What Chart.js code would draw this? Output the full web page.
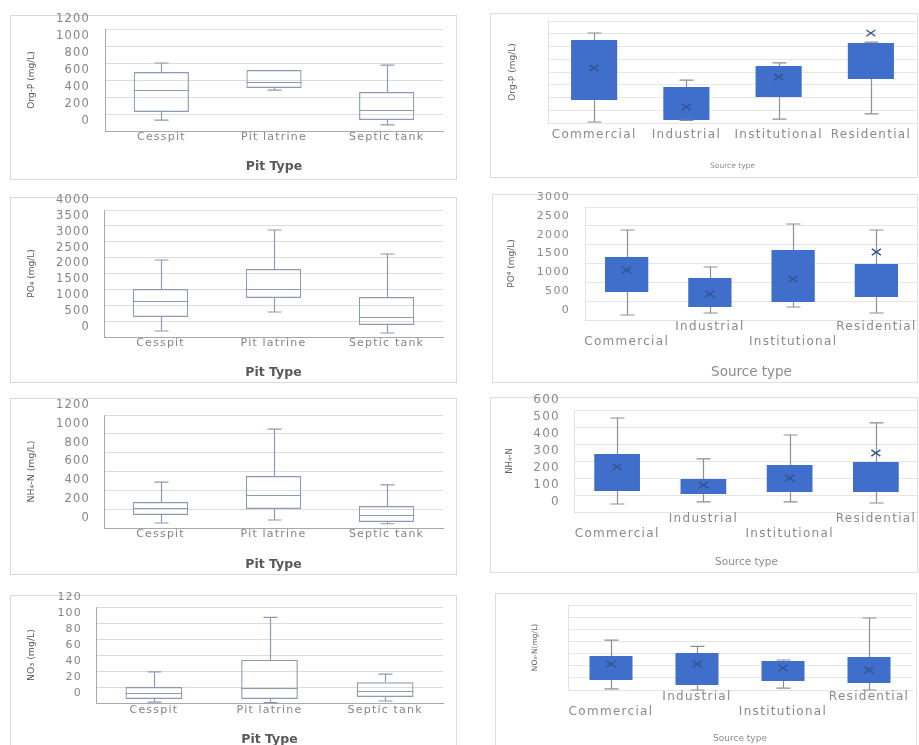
<!DOCTYPE html>
<html><head><meta charset="utf-8">
<script src="https://cdn.jsdelivr.net/npm/chart.js@4.4.1/dist/chart.umd.min.js"></script>
<style>
html,body{margin:0;padding:0;width:919px;height:745px;overflow:hidden;background:#fff;}
.frame{position:absolute;box-sizing:border-box;border:1px solid #d9d9d9;}
canvas{position:absolute;}
</style></head><body>
<script>
// ---------- categories ----------
const pitTypes = ['Cesspit', 'Pit latrine', 'Septic tank'];
const sourceTypes = ['Commercial', 'Industrial', 'Institutional', 'Residential'];

// ---------- Org-P (mg/L) by pit type ----------
const orgPPitTicks = [0, 200, 400, 600, 800, 1000, 1200];
const orgPPitMin = [129, 482, 71];
const orgPPitQ1 = [224, 506, 129];
const orgPPitMedian = [482, 576, 247];
const orgPPitQ3 = [694, 718, 459];
const orgPPitMax = [800, 718, 776];

// ---------- Org-P (mg/L) by source type ----------
const orgPSrcTicks = [0, 100, 200, 300, 400, 500, 600, 700, 800];
const orgPSrcMin = [8, 20, 31, 71];
const orgPSrcQ1 = [180, 24, 204, 345];
const orgPSrcQ3 = [651, 282, 447, 627];
const orgPSrcMax = [706, 337, 471, 635];
const orgPSrcMean = [431, 125, 361, 705];

// ---------- PO4 (mg/L) by pit type ----------
const po4PitTicks = [0, 500, 1000, 1500, 2000, 2500, 3000, 3500, 4000];
const po4PitMin = [189, 787, 126];
const po4PitQ1 = [630, 1228, 378];
const po4PitMedian = [1134, 1512, 630];
const po4PitQ3 = [1512, 2142, 1260];
const po4PitMax = [2425, 3370, 2614];

// ---------- PO4 (mg/L) by source type ----------
const po4SrcTicks = [0, 500, 1000, 1500, 2000, 2500, 3000];
const po4SrcMin = [133, 186, 345, 186];
const po4SrcQ1 = [743, 345, 478, 611];
const po4SrcQ3 = [1673, 1115, 1858, 1487];
const po4SrcMax = [2389, 1407, 2549, 2389];
const po4SrcMean = [1327, 690, 1088, 1805];

// ---------- NH4-N (mg/L) by pit type ----------
const nh4PitTicks = [0, 200, 400, 600, 800, 1000, 1200];
const nh4PitMin = [53, 85, 45];
const nh4PitQ1 = [138, 202, 64];
const nh4PitMedian = [212, 350, 138];
const nh4PitQ3 = [276, 552, 234];
const nh4PitMax = [488, 1051, 457];

// ---------- NH4-N by source type ----------
const nh4SrcTicks = [0, 100, 200, 300, 400, 500, 600];
const nh4SrcMin = [47, 59, 59, 53];
const nh4SrcQ1 = [124, 106, 118, 118];
const nh4SrcQ3 = [341, 194, 276, 294];
const nh4SrcMax = [553, 312, 453, 524];
const nh4SrcMean = [265, 159, 200, 347];

// ---------- NO3 (mg/L) by pit type ----------
const no3PitTicks = [0, 20, 40, 60, 80, 100, 120];
const no3PitMin = [1, 0.5, 2.5];
const no3PitQ1 = [5, 5, 7.5];
const no3PitMedian = [12.5, 19, 15];
const no3PitQ3 = [20, 54, 26];
const no3PitMax = [39, 107, 36];

// ---------- NO3-N (mg/L) by source type ----------
const no3SrcTicks = [0, 10, 20, 30, 40, 50, 60, 70];
const no3SrcMin = [1, 0, 1.6, 0];
const no3SrcQ1 = [8.2, 4.1, 7.4, 5.8];
const no3SrcQ3 = [28, 30.5, 23.9, 27.2];
const no3SrcMax = [41, 36, 24.7, 59.3];
const no3SrcMean = [21.4, 21.4, 18, 16.5];

const FONT = 'DejaVu Sans';

const LEFT_STYLE = {
  solid: false, boxColor: '#8c9ab4', whiskerColor: '#8c9ab4', cap: 7,
  grid: '#dcdcdc', axis: '#a9a9a9', frame: '#d9d9d9',
  tickColor: '#858585', catColor: '#858585', yTitleColor: '#555555', xTitleColor: '#595959', ls: 1.2
};
const RIGHT_STYLE = {
  solid: true, boxColor: '#3f6ecb', whiskerColor: '#8f8f8f', cap: 7, meanColor: '#34548f',
  grid: '#e6e6e6', axis: '#e2e2e2', frame: '#dedede',
  tickColor: '#8a8a8a', catColor: '#8a8a8a', yTitleColor: '#5f5f5f', xTitleColor: '#8c8c8c', ls: 1.3
};

const panels = [
  { box: [10, 15, 457, 180], plot: [105, 29, 443, 131], cats: pitTypes, stagger: false,
    ticks: orgPPitTicks, showTicks: true, tickSize: 11.5, labelRight: 90,
    yTitle: 'Org-P (mg/L)', yTitleSize: 9, yTitleX: 32,
    xTitle: 'Pit Type', xTitleSize: 12.5, xTitleBold: true, xTitleY: 167,
    catSize: 11, catY: 137, barPct: 0.49, style: LEFT_STYLE,
    min: orgPPitMin, q1: orgPPitQ1, median: orgPPitMedian, q3: orgPPitQ3, max: orgPPitMax },
  { box: [490, 13, 918, 178], plot: [548, 21, 917, 123], cats: sourceTypes, stagger: false,
    ticks: orgPSrcTicks, showTicks: false, tickSize: 11, labelRight: 540,
    yTitle: 'Org-P (mg/L)', yTitleSize: 9, yTitleX: 513,
    xTitle: 'Source type', xTitleSize: 7.5, xTitleBold: false, xTitleY: 166,
    catSize: 12, catY: 135, barPct: 0.5, style: RIGHT_STYLE,
    min: orgPSrcMin, q1: orgPSrcQ1, q3: orgPSrcQ3, max: orgPSrcMax, mean: orgPSrcMean },
  { box: [10, 197, 457, 383], plot: [104, 210, 443, 337], cats: pitTypes, stagger: false,
    ticks: po4PitTicks, showTicks: true, tickSize: 11.5, labelRight: 90,
    yTitle: 'PO\u2084 (mg/L)', yTitleSize: 9, yTitleX: 32,
    xTitle: 'Pit Type', xTitleSize: 12.5, xTitleBold: true, xTitleY: 373,
    catSize: 11, catY: 343, barPct: 0.49, style: LEFT_STYLE,
    min: po4PitMin, q1: po4PitQ1, median: po4PitMedian, q3: po4PitQ3, max: po4PitMax },
  { box: [492, 194, 918, 383], plot: [585, 207, 918, 320], cats: sourceTypes, stagger: true,
    ticks: po4SrcTicks, showTicks: true, tickSize: 11, labelRight: 570,
    yTitle: 'PO\u2074 (mg/L)', yTitleSize: 9, yTitleX: 512,
    xTitle: 'Source type', xTitleSize: 13.5, xTitleBold: false, xTitleY: 372,
    catSize: 12, catY: 327, barPct: 0.52, style: RIGHT_STYLE,
    min: po4SrcMin, q1: po4SrcQ1, q3: po4SrcQ3, max: po4SrcMax, mean: po4SrcMean },
  { box: [10, 398, 457, 575], plot: [104, 415, 443, 528], cats: pitTypes, stagger: false,
    ticks: nh4PitTicks, showTicks: true, tickSize: 11.5, labelRight: 90,
    yTitle: 'NH\u2084-N (mg/L)', yTitleSize: 9.4, yTitleX: 32,
    xTitle: 'Pit Type', xTitleSize: 12.5, xTitleBold: true, xTitleY: 565,
    catSize: 11, catY: 534, barPct: 0.49, style: LEFT_STYLE,
    min: nh4PitMin, q1: nh4PitQ1, median: nh4PitMedian, q3: nh4PitQ3, max: nh4PitMax },
  { box: [490, 397, 918, 573], plot: [574, 410, 919, 512], cats: sourceTypes, stagger: true,
    ticks: nh4SrcTicks, showTicks: true, tickSize: 12, labelRight: 560,
    yTitle: 'NH\u2084-N', yTitleSize: 8.5, yTitleX: 510,
    xTitle: 'Source type', xTitleSize: 10.5, xTitleBold: false, xTitleY: 562,
    catSize: 12, catY: 518, barPct: 0.53, style: RIGHT_STYLE,
    min: nh4SrcMin, q1: nh4SrcQ1, q3: nh4SrcQ3, max: nh4SrcMax, mean: nh4SrcMean },
  { box: [10, 595, 457, 770], cb: 752, plot: [96, 607, 443, 703], cats: pitTypes, stagger: false,
    ticks: no3PitTicks, showTicks: true, tickSize: 11, labelRight: 82,
    yTitle: 'NO\u2083 (mg/L)', yTitleSize: 9.4, yTitleX: 32,
    xTitle: 'Pit Type', xTitleSize: 12.5, xTitleBold: true, xTitleY: 740,
    catSize: 11, catY: 710, barPct: 0.49, style: LEFT_STYLE,
    min: no3PitMin, q1: no3PitQ1, median: no3PitMedian, q3: no3PitQ3, max: no3PitMax },
  { box: [495, 593, 917, 770], cb: 752, plot: [568, 605, 912, 690], cats: sourceTypes, stagger: true,
    ticks: no3SrcTicks, showTicks: false, tickSize: 11, labelRight: 560,
    yTitle: 'NO\u2083-N(mg/L)', yTitleSize: 7.5, yTitleX: 535,
    xTitle: 'Source type', xTitleSize: 9, xTitleBold: false, xTitleY: 739,
    catSize: 12, catY: 696, barPct: 0.5, style: RIGHT_STYLE,
    min: no3SrcMin, q1: no3SrcQ1, q3: no3SrcQ3, max: no3SrcMax, mean: no3SrcMean }
];

function boxPlugin(p) {
  const st = p.style;
  return {
    id: 'boxWhisker',
    beforeUpdate(chart) { chart.ctx.letterSpacing = st.ls + 'px'; },
    beforeDraw(chart) { chart.ctx.letterSpacing = '0px'; },
    afterDatasetsDraw(chart) {
      const ctx = chart.ctx, ys = chart.scales.y;
      const bars = chart.getDatasetMeta(0).data;
      const py = v => ys.getPixelForValue(v);
      ctx.save();
      bars.forEach((bar, i) => {
        const cx = Math.round(bar.x) + 0.5;
        const hw = bar.width / 2;
        ctx.strokeStyle = st.whiskerColor;
        ctx.lineWidth = 1.2;
        ctx.beginPath();
        if (p.max[i] > p.q3[i]) {
          const a = py(p.q3[i]), b = py(p.max[i]);
          ctx.moveTo(cx, a); ctx.lineTo(cx, b);
          ctx.moveTo(cx - st.cap, b); ctx.lineTo(cx + st.cap, b);
        }
        if (p.min[i] < p.q1[i]) {
          const a = py(p.q1[i]), b = py(p.min[i]);
          ctx.moveTo(cx, a); ctx.lineTo(cx, b);
          ctx.moveTo(cx - st.cap, b); ctx.lineTo(cx + st.cap, b);
        }
        ctx.stroke();
        if (p.median) {
          const m = Math.round(py(p.median[i])) + 0.5;
          ctx.strokeStyle = st.boxColor;
          ctx.lineWidth = 1.2;
          ctx.beginPath();
          ctx.moveTo(bar.x - hw, m); ctx.lineTo(bar.x + hw, m);
          ctx.stroke();
        }
        if (p.mean) {
          const my = py(p.mean[i]), s = 4.5;
          ctx.strokeStyle = st.meanColor;
          ctx.lineWidth = 1.4;
          ctx.beginPath();
          ctx.moveTo(bar.x - s, my - s * 0.7); ctx.lineTo(bar.x + s, my + s * 0.7);
          ctx.moveTo(bar.x - s, my + s * 0.7); ctx.lineTo(bar.x + s, my - s * 0.7);
          ctx.stroke();
        }
      });
      ctx.restore();
      ctx.letterSpacing = st.ls + 'px';
    }
  };
}

function makePanel(p) {
  const st = p.style;
  const frame = document.createElement('div');
  frame.className = 'frame';
  frame.style.left = p.box[0] + 'px';
  frame.style.top = p.box[1] + 'px';
  frame.style.width = (p.box[2] - p.box[0]) + 'px';
  frame.style.height = (p.box[3] - p.box[1]) + 'px';
  frame.style.borderColor = st.frame;
  document.body.appendChild(frame);

  const cl = p.box[0], ct = p.box[1] - 6;
  const cr = Math.max(p.box[2], p.plot[2]);
  const cb = p.cb || p.box[3];
  const canvas = document.createElement('canvas');
  canvas.width = cr - cl; canvas.height = cb - ct;
  canvas.style.left = cl + 'px'; canvas.style.top = ct + 'px';
  canvas.style.width = (cr - cl) + 'px'; canvas.style.height = (cb - ct) + 'px';
  document.body.appendChild(canvas);

  const yTitleLH = p.yTitleSize * 1.2;
  const xTitleLH = p.xTitleSize * 1.2;
  const catLH = p.catSize * 1.2;
  const labels = p.stagger ? p.cats.map((c, i) => (i % 2 === 0 ? ['', c] : c)) : p.cats;
  const yWidth = p.plot[0] - cl;
  const xHeight = cb - p.plot[3];

  new Chart(canvas, {
    type: 'bar',
    data: {
      labels: labels,
      datasets: [{
        data: p.q1.map((v, i) => [v, p.q3[i]]),
        backgroundColor: st.solid ? st.boxColor : 'rgba(255,255,255,0)',
        borderColor: st.boxColor,
        borderWidth: st.solid ? 0 : 1.2,
        borderSkipped: false,
        barPercentage: p.barPct,
        categoryPercentage: 1
      }]
    },
    options: {
      responsive: false,
      animation: false,
      events: [],
      layout: { padding: { left: 0, top: p.plot[1] - ct, right: cr - p.plot[2], bottom: 0 } },
      plugins: { legend: { display: false }, tooltip: { enabled: false } },
      scales: {
        x: {
          offset: true,
          grid: { display: true, color: 'rgba(0,0,0,0)', drawTicks: true,
                  tickLength: Math.max(0, p.catY - p.plot[3] - catLH / 2), tickColor: 'rgba(0,0,0,0)' },
          border: { display: true, color: st.axis, width: 1 },
          ticks: { padding: 0, color: st.catColor, autoSkip: false, maxRotation: 0, minRotation: 0, z: 1,
                   font: { family: FONT, size: p.catSize } },
          title: { display: true, text: p.xTitle, color: st.xTitleColor,
                   font: { family: FONT, size: p.xTitleSize, weight: p.xTitleBold ? 'bold' : 'normal' },
                   padding: { top: 0, bottom: cb - p.xTitleY - xTitleLH / 2 } },
          afterFit: s => { s.height = xHeight; }
        },
        y: {
          min: p.ticks[0], max: p.ticks[p.ticks.length - 1],
          afterBuildTicks: s => { s.ticks = p.ticks.map(v => ({ value: v })); },
          grid: { color: st.grid, lineWidth: 1, drawTicks: true,
                  tickLength: Math.max(0, p.plot[0] - p.labelRight), tickColor: 'rgba(0,0,0,0)' },
          border: { display: true, color: st.axis, width: 1 },
          ticks: { display: p.showTicks, autoSkip: false, padding: 0, labelOffset: -10, color: st.tickColor, z: 1,
                   font: { family: FONT, size: p.tickSize }, callback: v => String(v) },
          title: { display: true, text: p.yTitle, color: st.yTitleColor,
                   font: { family: FONT, size: p.yTitleSize },
                   padding: { top: p.yTitleX - cl - yTitleLH / 2, bottom: 0 } },
          afterFit: s => { s.width = yWidth; }
        }
      }
    },
    plugins: [boxPlugin(p)]
  });
}

panels.forEach(makePanel);
</script>
</body></html>
